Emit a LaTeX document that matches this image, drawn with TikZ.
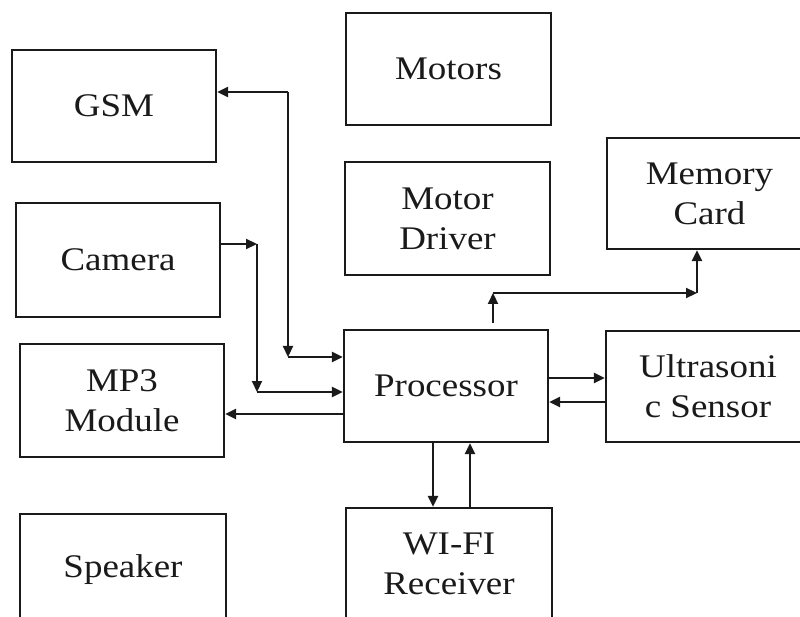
\documentclass[tikz,border=0pt]{standalone}
\usepackage{fontspec}
\setmainfont{Liberation Serif}[FakeStretch=1.12]
\usetikzlibrary{arrows.meta}
\definecolor{ink}{HTML}{1A1A1A}
\begin{document}
\begin{tikzpicture}[x=1pt,y=-1pt,
  box/.style={draw=ink,line width=2.2pt,align=center,inner sep=0pt,
    font=\fontsize{33}{40}\selectfont,text=ink},
  arr/.style={draw=ink,line width=2.2pt,-{Triangle[length=11pt,width=10pt]}}]
\useasboundingbox (0,0) rectangle (800,617);
\fill[white] (0,0) rectangle (800,617);
% boxes
\node[box,minimum width=204pt,minimum height=112pt] (gsm) at (114,106) {GSM};
\node[box,minimum width=205pt,minimum height=112pt] (motors) at (448.5,69) {Motors};
\node[box,minimum width=204pt,minimum height=114pt] (camera) at (118,260) {Camera};
\node[box,minimum width=205pt,minimum height=113pt] (driver) at (447.5,218.5) {Motor\\Driver};
\node[box,minimum width=205pt,minimum height=111pt] (memory) at (709.5,193.5) {Memory\\Card};
\node[box,minimum width=204pt,minimum height=112pt] (proc) at (446,386) {Processor};
\node[box,minimum width=204pt,minimum height=111pt] (ultra) at (708,386.5) {Ultrasoni\\c Sensor};
\node[box,minimum width=204pt,minimum height=113pt] (mp3) at (122,400.5) {MP3\\Module};
\node[box,minimum width=206pt,minimum height=112pt] (speaker) at (123,570) {Speaker};
\node[box,minimum width=206pt,minimum height=112pt] (wifi) at (449,564) {WI-FI\\Receiver};
% connector coordinates
\coordinate (g1) at (288,92);
\coordinate (g2) at (288,357);
\coordinate (c1) at (257,244);
\coordinate (c2) at (257,392);
\coordinate (mp) at (300,414);
\coordinate (m0) at (493,323);
\coordinate (m1) at (493,293);
\coordinate (m2) at (697,293);
\coordinate (u1) at (580,378);
\coordinate (u2) at (580,402);
\coordinate (w1) at (433,470);
\coordinate (w2) at (470,470);
% GSM
\draw[arr] (g1) -- (gsm.east |- g1);
\draw[arr] (g1) -- (g2);
\draw[arr] (g2) -- (proc.west |- g2);
% Camera
\draw[arr] (camera.east |- c1) -- (c1);
\draw[arr] (c1) -- (c2);
\draw[arr] (c2) -- (proc.west |- c2);
% MP3
\draw[arr] (proc.west |- mp) -- (mp3.east |- mp);
% Memory card
\draw[arr] (m0) -- (m1);
\draw[arr] (m1) -- (m2);
\draw[arr] (m2) -- (memory.south -| m2);
% Ultrasonic
\draw[arr] (proc.east |- u1) -- (ultra.west |- u1);
\draw[arr] (ultra.west |- u2) -- (proc.east |- u2);
% WiFi
\draw[arr] (proc.south -| w1) -- (wifi.north -| w1);
\draw[arr] (wifi.north -| w2) -- (proc.south -| w2);
\end{tikzpicture}
\end{document}
